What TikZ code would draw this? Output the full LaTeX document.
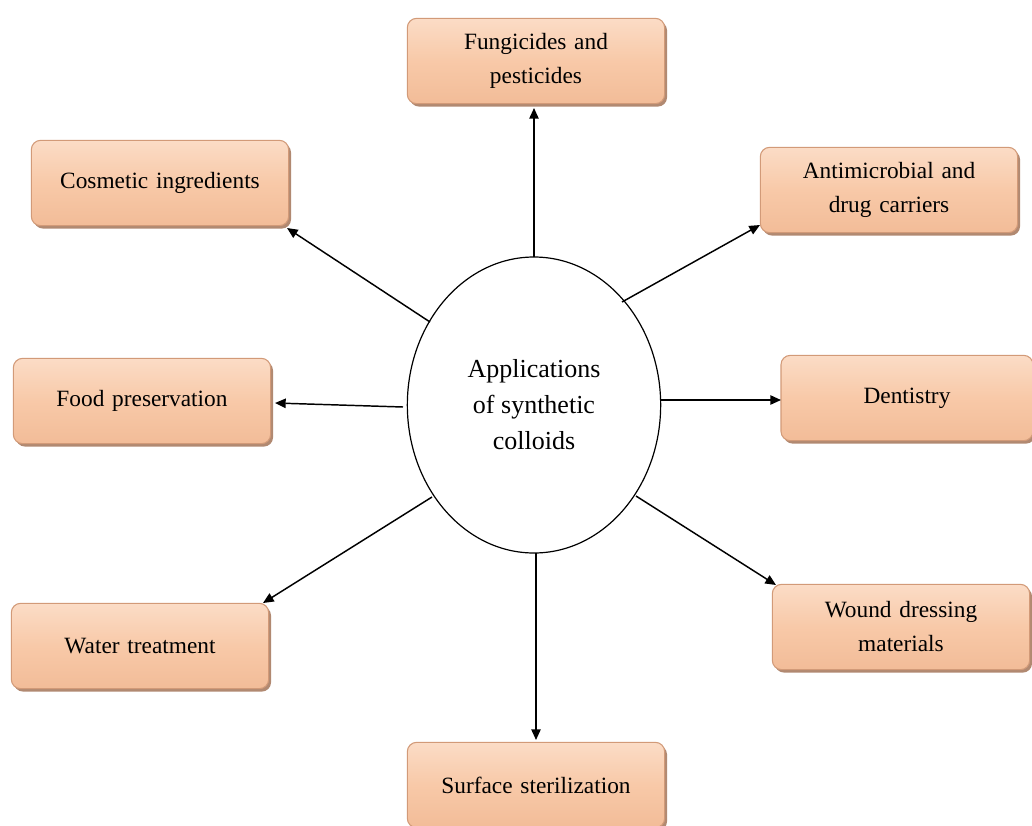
\documentclass[tikz,border=0pt]{standalone}
\usepackage{fontspec}
\setmainfont{Liberation Serif}
\usetikzlibrary{shadows,arrows.meta,shapes.geometric}
\definecolor{peachtop}{HTML}{FBDCC6}
\definecolor{peachmid}{HTML}{F8C9A8}
\definecolor{peachbot}{HTML}{F2BC98}
\definecolor{peachedge}{HTML}{D29A78}
\definecolor{peachshadow}{HTML}{A87C62}
\tikzset{
  appbox/.style={rectangle, rounded corners=7pt, top color=peachtop, bottom color=peachbot,
    middle color=peachmid, draw=peachedge, line width=0.8pt,
    minimum width=193pt, minimum height=64pt, align=center, text width=185pt,
    font=\fontsize{17.5}{25.5}\selectfont, inner sep=2pt,
    drop shadow={shadow xshift=1.8pt, shadow yshift=-2.2pt, fill=peachshadow, opacity=0.9}},
  hub/.style={ellipse, draw=black, line width=0.9pt, fill=white, minimum width=190pt,
    minimum height=222pt, align=center, font=\fontsize{19.5}{27}\selectfont, inner sep=0pt},
  link/.style={-{Triangle[length=8pt,width=7pt]}, line width=1.1pt, black}
}
\begin{document}
\begin{tikzpicture}[x=0.75pt,y=-0.75pt]
\useasboundingbox (0,0) rectangle (1032,825);
\node[hub] (c) at (534,405) {Applications\\of synthetic\\colloids};
\node[appbox] (fun) at (536,61) {Fungicides and\\pesticides};
\node[appbox] (cos) at (160,183) {Cosmetic ingredients};
\node[appbox] (ant) at (889,190) {Antimicrobial and\\drug carriers};
\node[appbox] (food) at (142,401) {Food preservation};
\node[appbox, minimum width=187pt] (den) at (907,398) {Dentistry};
\node[appbox] (wat) at (140,646) {Water treatment};
\node[appbox] (wou) at (901,627) {Wound dressing\\materials};
\node[appbox] (sur) at (536,785) {Surface sterilization};
\coordinate (cn) at (534,257);
\coordinate (cnw) at (430,322);
\coordinate (cne) at (622,302);
\coordinate (cw) at (403,407);
\coordinate (ce) at (661,400);
\coordinate (csw) at (432,497);
\coordinate (cse) at (636,496);
\coordinate (cs) at (536,553);
\coordinate (tfun) at (534,108);
\coordinate (tcos) at (287,228);
\coordinate (tant) at (760,225);
\coordinate (tfood) at (275,403);
\coordinate (tden) at (781,400);
\coordinate (twat) at (263,603);
\coordinate (twou) at (776,585);
\coordinate (tsur) at (536,740);
\draw[link] (cn) -- (tfun);
\draw[link] (cnw) -- (tcos);
\draw[link] (cne) -- (tant);
\draw[link] (cw) -- (tfood);
\draw[link] (ce) -- (tden);
\draw[link] (csw) -- (twat);
\draw[link] (cse) -- (twou);
\draw[link] (cs) -- (tsur);
\end{tikzpicture}
\end{document}
